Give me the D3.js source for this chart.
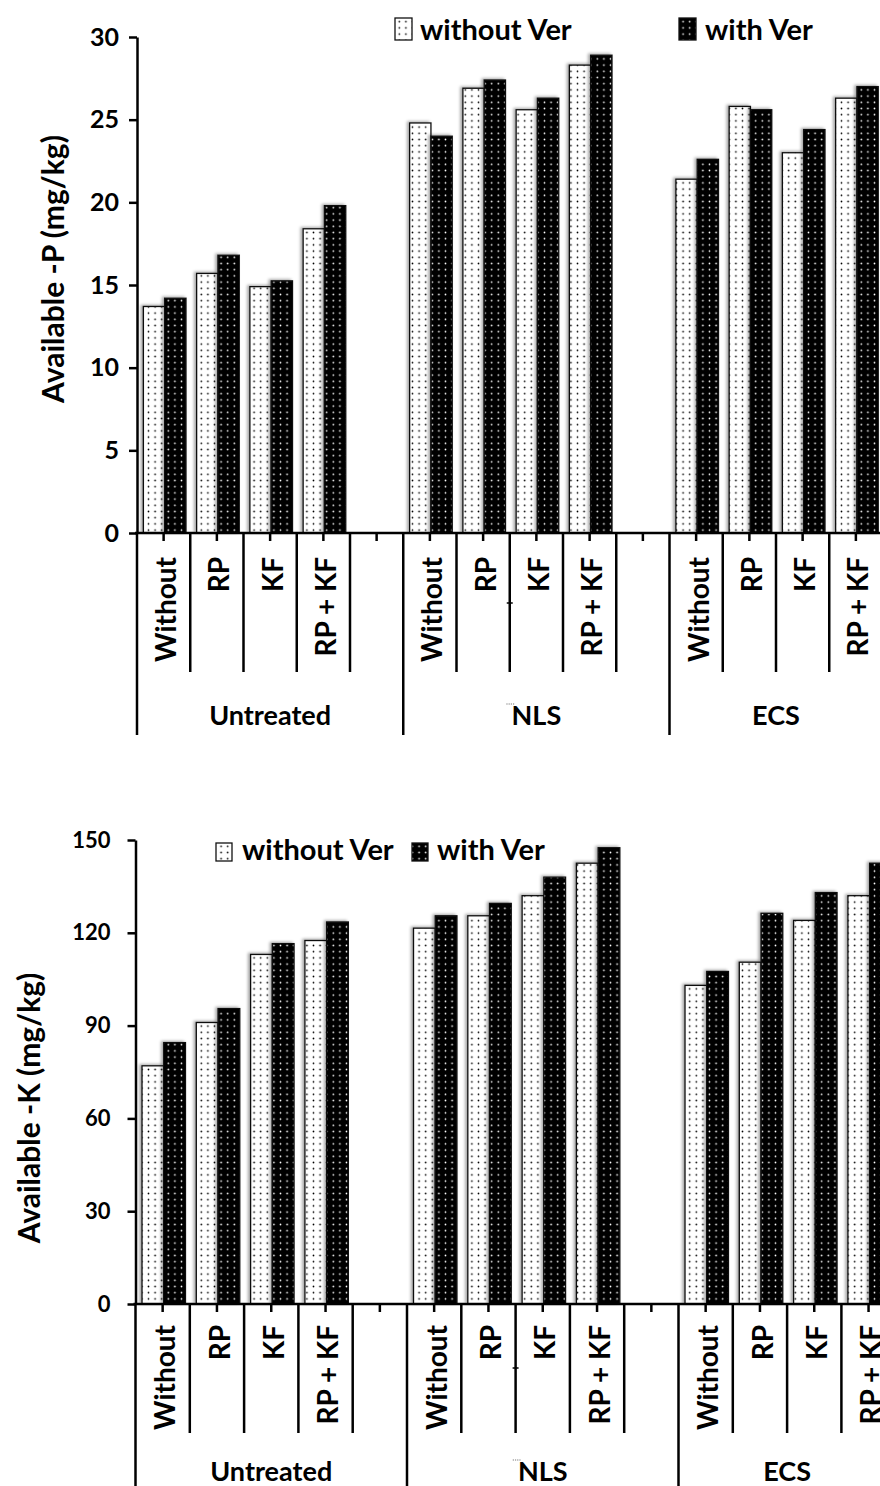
<!DOCTYPE html>
<html>
<head>
<meta charset="utf-8">
<script src="https://cdn.jsdelivr.net/npm/d3@7"></script>
<style>
  body { margin: 0; background: #fff; }
  svg { display: block; }
  text { font-family: Lato, "Open Sans", sans-serif; font-weight: bold; fill: #000; }
</style>
</head>
<body>
<svg id="chart"></svg>
<script>
// categories
var groups = ["Untreated", "NLS", "ECS"];
var treatments = ["Without", "RP", "KF", "RP + KF"];
var series = ["without Ver", "with Ver"];

// available P (mg/kg), 12 bars per series: Untreated x4, NLS x4, ECS x4
var pWithout = [13.7, 15.7, 14.9, 18.4, 24.8, 26.9, 25.6, 28.3, 21.4, 25.8, 23.0, 26.3];
var pWith    = [14.2, 16.8, 15.25, 19.8, 24.0, 27.4, 26.3, 28.9, 22.6, 25.6, 24.4, 27.0];
var pTicks = [0, 5, 10, 15, 20, 25, 30];

// available K (mg/kg)
var kWithout = [77, 91, 113, 117.5, 121.5, 125.5, 132, 142.5, 103, 110.5, 124, 132];
var kWith    = [84.5, 95.5, 116.5, 123.5, 125.5, 129.5, 138, 147.5, 107.5, 126.3, 133, 142.5];
var kTicks = [0, 30, 60, 90, 120, 150];

var W = 880, H = 1486;
var svg = d3.select("#chart").attr("width", W).attr("height", H);

// patterns
var defs = svg.append("defs");
var pw = defs.append("pattern").attr("id", "dotW")
    .attr("patternUnits", "userSpaceOnUse").attr("width", 6.6).attr("height", 6.2);
pw.append("rect").attr("width", 6.6).attr("height", 6.2).attr("fill", "#fff");
pw.append("circle").attr("cx", 3.3).attr("cy", 3.1).attr("r", 0.85).attr("fill", "#000");
var pb = defs.append("pattern").attr("id", "dotB")
    .attr("patternUnits", "userSpaceOnUse").attr("width", 6.6).attr("height", 6.2);
pb.append("rect").attr("width", 6.6).attr("height", 6.2).attr("fill", "#000");
pb.append("circle").attr("cx", 3.3).attr("cy", 3.1).attr("r", 0.85).attr("fill", "#fff");
defs.append("filter").attr("id", "shadow").attr("x", "-30%").attr("y", "-5%")
    .attr("width", "160%").attr("height", "110%")
  .append("feDropShadow").attr("dx", -2).attr("dy", -1).attr("stdDeviation", 1.5)
    .attr("flood-color", "#000").attr("flood-opacity", 0.35);

var fills = ["url(#dotW)", "url(#dotB)"];

function drawChart(o) {
    var g = svg.append("g");

    // 14 slots: 4 treatments + gap, 4 + gap, 4
    var slots = [];
    groups.forEach(function(gr, gi) {
        treatments.forEach(function(t) { slots.push(gr + "|" + t); });
        if (gi < groups.length - 1) slots.push(gr + "|gap");
    });
    var x0 = d3.scaleBand().domain(slots).range([o.left, o.left + o.slotW * slots.length]).padding(0);
    var x1 = d3.scaleBand().domain(series).range([0.12 * o.slotW, 0.92 * o.slotW]).padding(0);
    var y = d3.scaleLinear().domain([0, o.ticks[o.ticks.length - 1]]).range([o.bottom, o.top]);

    // bars
    var rows = [];
    groups.forEach(function(gr, gi) {
        treatments.forEach(function(t, ti) {
            var i = gi * 4 + ti;
            rows.push({ key: gr + "|" + t, s: 0, v: o.a[i] });
            rows.push({ key: gr + "|" + t, s: 1, v: o.b[i] });
        });
    });
    g.selectAll("rect.bar").data(rows).enter().append("rect")
        .attr("class", "bar")
        .attr("x", function(d) { return x0(d.key) + x1(series[d.s]); })
        .attr("y", function(d) { return y(d.v); })
        .attr("width", x1.bandwidth())
        .attr("height", function(d) { return y(0) - y(d.v); })
        .attr("fill", function(d) { return fills[d.s]; })
        .attr("stroke", "#111").attr("stroke-width", 1.3)
        .attr("filter", "url(#shadow)");

    // y axis
    var ya = g.append("g").attr("transform", "translate(" + o.left + ",0)")
        .call(d3.axisLeft(y).tickValues(o.ticks).tickSize(8).tickPadding(o.tickPad).tickSizeOuter(0));
    ya.select(".domain").attr("stroke", "#000").attr("stroke-width", 2.5);
    ya.selectAll(".tick line").attr("stroke", "#000").attr("stroke-width", 2.5);
    ya.selectAll(".tick text").style("font-size", o.tickFont + "px").attr("fill", "#000")
        .style("font-family", "Lato, sans-serif").style("font-weight", "bold");

    // x axis line
    g.append("line").attr("x1", o.left - 2).attr("x2", W + 20)
        .attr("y1", o.bottom).attr("y2", o.bottom)
        .attr("stroke", "#000").attr("stroke-width", 2.5);

    // short ticks at slot centres
    g.selectAll("line.xt").data(slots).enter().append("line")
        .attr("x1", function(d) { return x0(d) + o.slotW / 2; })
        .attr("x2", function(d) { return x0(d) + o.slotW / 2; })
        .attr("y1", o.bottom).attr("y2", o.bottom + 8)
        .attr("stroke", "#000").attr("stroke-width", 2.5);

    // slot separators; group edges run further down
    var edges = d3.range(slots.length + 1);
    var groupEdges = [0, 5, 10, slots.length];
    g.selectAll("line.sep").data(edges).enter().append("line")
        .attr("x1", function(i) { return o.left + i * o.slotW; })
        .attr("x2", function(i) { return o.left + i * o.slotW; })
        .attr("y1", o.bottom)
        .attr("y2", function(i) { return groupEdges.indexOf(i) >= 0 ? o.groupEnd : o.sepEnd; })
        .attr("stroke", "#000").attr("stroke-width", 2.5);

    // treatment labels
    g.selectAll("text.cat").data(slots.filter(function(s) { return s.indexOf("|gap") < 0; }))
        .enter().append("text")
        .attr("transform", function(d) {
            return "translate(" + (x0(d) + o.slotW / 2 + 2.5) + "," + o.catTop + ") rotate(-90)";
        })
        .attr("text-anchor", "end").attr("dy", "0.36em")
        .style("font-size", o.catFont + "px")
        .text(function(d) { return d.split("|")[1]; });

    // group labels, centred between group edges
    groups.forEach(function(gr, gi) {
        var a = o.left + groupEdges[gi] * o.slotW, b = o.left + groupEdges[gi + 1] * o.slotW;
        g.append("text").attr("x", (a + b) / 2).attr("y", o.groupBase)
            .attr("text-anchor", "middle").style("font-size", o.groupFont + "px").text(gr);
        if (gr === "NLS") {
            // stray mark in the original just before "NLS"
            g.append("line").attr("x1", (a + b) / 2 - 30).attr("x2", (a + b) / 2 - 22)
                .attr("y1", o.groupBase - 21).attr("y2", o.groupBase - 21)
                .attr("stroke", "#777").attr("stroke-width", 1.2).attr("stroke-dasharray", "1.2,1");
        }
    });

    // stray tick on the NLS RP/KF separator
    var ex = o.left + 7 * o.slotW;
    g.append("line").attr("x1", ex - 3).attr("x2", ex + 3)
        .attr("y1", o.plusY).attr("y2", o.plusY).attr("stroke", "#000").attr("stroke-width", 1.5);

    // y title
    g.append("text")
        .attr("transform", "translate(" + o.titleX + "," + o.titleY + ") rotate(-90)")
        .attr("text-anchor", "middle").attr("dy", "0.36em")
        .style("font-size", o.titleFont + "px").text(o.title);

    // legend
    o.legend.forEach(function(l, i) {
        g.append("rect").attr("x", l.bx).attr("y", o.legY).attr("width", o.legW).attr("height", o.legH)
            .attr("fill", fills[i]).attr("stroke", "#111").attr("stroke-width", 1.3);
        g.append("text").attr("x", l.tx).attr("y", o.legBase)
            .style("font-size", o.legFont + "px").text(series[i]);
    });
}

drawChart({
    a: pWithout, b: pWith, ticks: pTicks,
    left: 137, slotW: 53.25, top: 37, bottom: 533,
    tickPad: 10, tickFont: 25,
    sepEnd: 672, groupEnd: 735, catTop: 557, catFont: 28, groupBase: 725, groupFont: 27,
    plusY: 603,
    title: "Available -P (mg/kg)", titleX: 53, titleY: 269, titleFont: 30,
    legY: 18, legW: 17, legH: 22, legBase: 40, legFont: 29,
    legend: [{ bx: 395, tx: 420 }, { bx: 679, tx: 705 }]
});

drawChart({
    a: kWithout, b: kWith, ticks: kTicks,
    left: 135.5, slotW: 54.3, top: 840, bottom: 1304,
    tickPad: 17, tickFont: 22,
    sepEnd: 1433, groupEnd: 1500, catTop: 1325, catFont: 28, groupBase: 1481, groupFont: 27,
    plusY: 1368,
    title: "Available -K (mg/kg)", titleX: 29, titleY: 1108, titleFont: 30,
    legY: 843, legW: 16, legH: 18, legBase: 860, legFont: 29,
    legend: [{ bx: 216, tx: 242 }, { bx: 412, tx: 437 }]
});
</script>
</body>
</html>
